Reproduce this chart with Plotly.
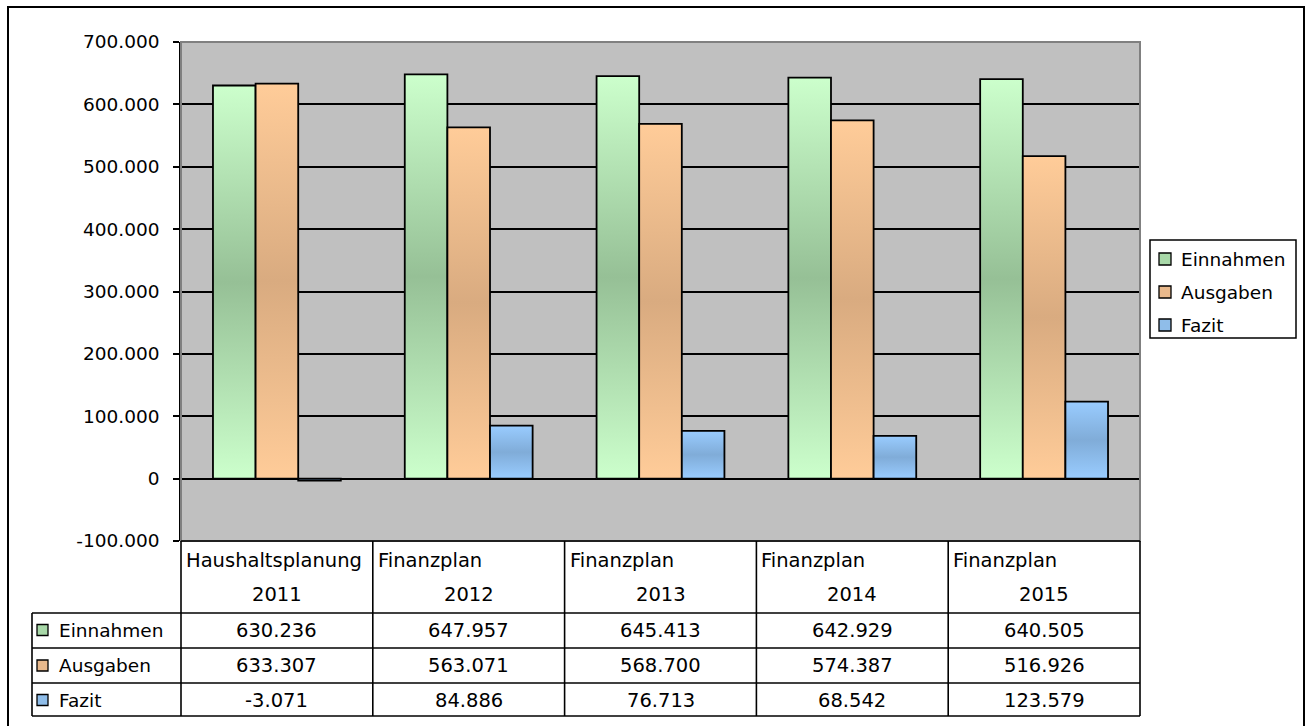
import plotly.graph_objects as go

# ---------------- data ----------------
cat_top = ["Haushaltsplanung", "Finanzplan", "Finanzplan", "Finanzplan", "Finanzplan"]
cat_year = ["2011", "2012", "2013", "2014", "2015"]
series_names = ["Einnahmen", "Ausgaben", "Fazit"]
einnahmen = [630236, 647957, 645413, 642929, 640505]
ausgaben = [633307, 563071, 568700, 574387, 516926]
fazit = [-3071, 84886, 76713, 68542, 123579]
y_tick_values = [-100000, 0, 100000, 200000, 300000, 400000, 500000, 600000, 700000]
y_tick_labels = ["-100.000", "0", "100.000", "200.000", "300.000", "400.000",
                 "500.000", "600.000", "700.000"]

series_values = [einnahmen, ausgaben, fazit]
light = ["#ccffcc", "#ffcc99", "#99ccff"]
dark = ["#96c096", "#d9ab80", "#80acd8"]
swatch = ["#a8d8a8", "#e9b98c", "#8fbde9"]

FONT = "DejaVu Sans, Arial, sans-serif"
FS = 18.5
FS_TAB = 19.5

# pixel geometry of plot area
WF, HF = 1305, 726
L, R, T, B = 181, 1140, 42, 541


def px(x):
    return (x - L) / (R - L)


def py(y):
    return (B - y) / (B - T)


def fmt(v):
    return f"{v:,}".replace(",", ".")


fig = go.Figure()

ncat = len(cat_year)
nser = len(series_names)
bw = 1 / (nser + 1.5)  # Excel gap width 150%

for k, (name, vals) in enumerate(zip(series_names, series_values)):
    for i, v in enumerate(vals):
        x0 = i + (k - nser / 2) * bw
        x1 = x0 + bw
        fig.add_trace(go.Scatter(
            x=[x0, x0, x1, x1, x0], y=[0, v, v, 0, 0],
            mode="lines", fill="toself", name=name,
            fillgradient=dict(type="vertical",
                              colorscale=[[0, light[k]], [0.5, dark[k]], [1, light[k]]]),
            line=dict(color="black", width=1.8),
            showlegend=False, hoverinfo="skip"))

shapes = []
annotations = []
# outer frame
shapes.append(dict(type="rect", xref="paper", yref="paper",
                   x0=px(8), x1=px(1304), y0=py(740), y1=py(7),
                   line=dict(color="black", width=2), fillcolor="rgba(0,0,0,0)"))
# plot area border (gray)
shapes.append(dict(type="rect", xref="paper", yref="paper", x0=0, x1=1, y0=0, y1=1,
                   line=dict(color="#808080", width=2), fillcolor="rgba(0,0,0,0)"))

# legend (drawn manually, Excel style)
shapes.append(dict(type="rect", xref="paper", yref="paper",
                   x0=px(1150), x1=px(1296), y0=py(338), y1=py(240),
                   line=dict(color="black", width=1.5), fillcolor="white"))
leg_centers = [259, 292, 325]
for k, name in enumerate(series_names):
    yc = leg_centers[k]
    shapes.append(dict(type="rect", xref="paper", yref="paper",
                       x0=px(1159), x1=px(1171), y0=py(yc + 6), y1=py(yc - 6),
                       line=dict(color="black", width=1.3), fillcolor=swatch[k]))
    annotations.append(dict(xref="paper", yref="paper", x=px(1179), y=py(yc),
                            xanchor="left", yanchor="middle", text=name,
                            showarrow=False, font=dict(family=FONT, size=FS, color="black")))

# table
row_lines = [613, 648, 683, 716]
col_w = (R - L) / ncat
tl = dict(color="black", width=1.6)
shapes.append(dict(type="line", xref="paper", yref="paper",
                   x0=px(L), x1=px(R), y0=py(B), y1=py(B), line=tl))
for yy in row_lines:
    shapes.append(dict(type="line", xref="paper", yref="paper",
                       x0=px(32), x1=px(R), y0=py(yy), y1=py(yy), line=tl))
shapes.append(dict(type="line", xref="paper", yref="paper",
                   x0=px(32), x1=px(32), y0=py(613), y1=py(716), line=tl))
for c in range(ncat + 1):
    xx = L + c * col_w
    shapes.append(dict(type="line", xref="paper", yref="paper",
                       x0=px(xx), x1=px(xx), y0=py(B), y1=py(716), line=tl))

row_centers = [630, 665.5, 700]
for k, name in enumerate(series_names):
    yc = row_centers[k]
    shapes.append(dict(type="rect", xref="paper", yref="paper",
                       x0=px(37), x1=px(48), y0=py(yc + 5.5), y1=py(yc - 5.5),
                       line=dict(color="black", width=1.3), fillcolor=swatch[k]))
    annotations.append(dict(xref="paper", yref="paper", x=px(57), y=py(yc),
                            xanchor="left", yanchor="middle", text=name,
                            showarrow=False, font=dict(family=FONT, size=FS, color="black")))
    for i, v in enumerate(series_values[k]):
        annotations.append(dict(xref="paper", yref="paper",
                                x=px(L + (i + 0.5) * col_w), y=py(yc),
                                xanchor="center", yanchor="middle", text=fmt(v),
                                showarrow=False,
                                font=dict(family=FONT, size=FS_TAB, color="black")))

for i in range(ncat):
    cl = L + i * col_w
    annotations.append(dict(xref="paper", yref="paper", x=px(cl + 3), y=py(560),
                            xanchor="left", yanchor="middle", text=cat_top[i],
                            showarrow=False, font=dict(family=FONT, size=FS_TAB, color="black")))
    annotations.append(dict(xref="paper", yref="paper", x=px(cl + col_w / 2), y=py(594),
                            xanchor="center", yanchor="middle", text=cat_year[i],
                            showarrow=False, font=dict(family=FONT, size=FS_TAB, color="black")))

fig.update_layout(
    width=WF, height=HF, autosize=False,
    margin=dict(l=L, r=WF - R, t=T, b=HF - B, pad=0, autoexpand=False),
    paper_bgcolor="white", plot_bgcolor="#c0c0c0",
    font=dict(family=FONT, size=FS, color="black"),
    showlegend=False,
    shapes=shapes, annotations=annotations,
    xaxis=dict(range=[-0.5, ncat - 0.5], showgrid=False, zeroline=False,
               showticklabels=False, ticks="", showline=False, fixedrange=True),
    yaxis=dict(range=[-100000, 700000], tickvals=y_tick_values, ticktext=y_tick_labels,
               showgrid=True, gridcolor="black", gridwidth=1.5,
               zeroline=True, zerolinecolor="black", zerolinewidth=1.5,
               showline=True, linecolor="black", linewidth=1.5,
               ticks="outside", ticklen=6, tickcolor="black", tickwidth=1.5,
               ticklabelstandoff=10,
               tickfont=dict(family=FONT, size=FS, color="black"), fixedrange=True),
)

fig.write_html("out.html")
